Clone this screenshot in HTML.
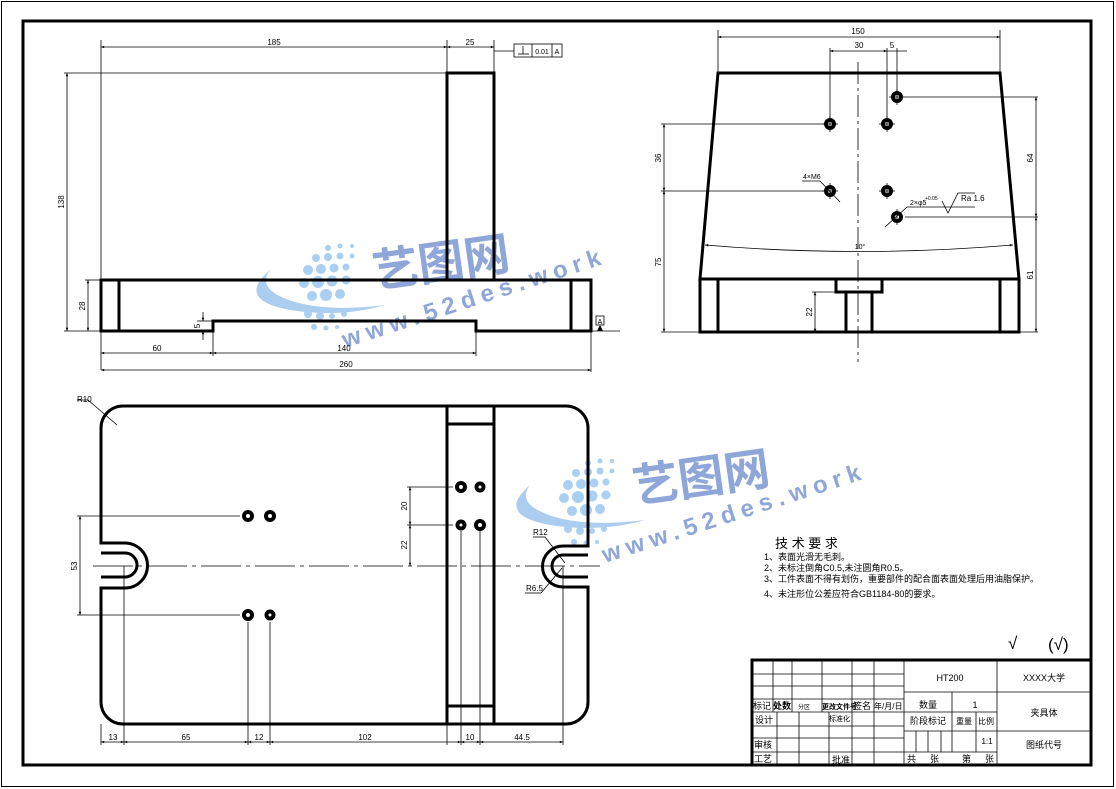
<!DOCTYPE html>
<html><head><meta charset="utf-8"><style>
html,body{margin:0;padding:0;background:#fff;}
svg{display:block;}
text{font-family:"Liberation Sans","Noto Sans CJK SC",sans-serif;fill:#000;}
.d{font-size:8px;}
.c{font-family:"Liberation Sans","Noto Sans CJK SC",sans-serif;font-size:9px;}
</style></head><body>
<svg width="1116" height="789" viewBox="0 0 1116 789" xmlns="http://www.w3.org/2000/svg">
<defs>
<marker id="a" viewBox="0 0 10 10" refX="10" refY="5" markerWidth="6" markerHeight="4" orient="auto-start-reverse"><path d="M0,1 L10,5 L0,9z" fill="#000"/></marker>
<g id="wm">
  <path d="M-40,-20 Q-75,10 -20,20 Q30,28 75,15 Q20,22 -15,12 Q-55,0 -40,-20 Z" fill="#9cc4ec" opacity="0.85"/>
  <g fill="#a9d0f3">
    <circle cx="18" cy="-42" r="3"/><circle cx="30" cy="-44" r="2.5"/><circle cx="42" cy="-44" r="2"/>
    <circle cx="6" cy="-32" r="4"/><circle cx="18" cy="-33" r="4"/><circle cx="30" cy="-34" r="3.5"/><circle cx="42" cy="-34" r="2.5"/>
    <circle cx="-2" cy="-20" r="5"/><circle cx="11" cy="-21" r="5"/><circle cx="24" cy="-22" r="4.5"/><circle cx="36" cy="-23" r="3.5"/>
    <circle cx="-6" cy="-7" r="5"/><circle cx="8" cy="-8" r="6"/><circle cx="22" cy="-9" r="5.5"/><circle cx="36" cy="-10" r="4.5"/>
    <circle cx="2" cy="6" r="5"/><circle cx="16" cy="5" r="6"/><circle cx="30" cy="4" r="5"/>
    <circle cx="-2" cy="24" r="4"/><circle cx="10" cy="26" r="4"/><circle cx="22" cy="26" r="3"/><circle cx="34" cy="24" r="3"/>
    <circle cx="4" cy="37" r="3"/><circle cx="16" cy="38" r="2.5"/><circle cx="27" cy="37" r="2"/>
  </g>
  <text x="65" y="-2" font-size="46" font-weight="bold" style="fill:#8fa6d8" transform="rotate(-8 65 -2)">艺图网</text>
  <text x="35" y="58" font-size="24" font-weight="bold" style="fill:#8fa6d8;letter-spacing:6px" transform="rotate(-18 35 58)">www.52des.work</text>
</g>
</defs>
<rect x="0" y="0" width="1116" height="789" fill="#fff"/>
<rect x="1.5" y="1.5" width="1112" height="785" fill="none" stroke="#000" stroke-width="1"/>
<rect x="23" y="21" width="1068" height="744" fill="none" stroke="#000" stroke-width="3"/>

<use href="#wm" x="310" y="290"/>
<use href="#wm" x="570" y="505"/>

<!-- FRONT VIEW -->
<g fill="none" stroke="#000">
<g stroke-width="3">
<rect x="447" y="73" width="47" height="207"/>
<path d="M101,280 H591 V331 H476 V321 H213 V331 H101 Z"/>
<line x1="119" y1="280" x2="119" y2="331"/><line x1="571" y1="280" x2="571" y2="331"/>
</g>
<g stroke-width="0.8">
<line x1="101" y1="40" x2="101" y2="370"/><line x1="447" y1="40" x2="447" y2="73"/><line x1="494" y1="40" x2="494" y2="73"/>
<line x1="64" y1="73" x2="447" y2="73"/><line x1="64" y1="331" x2="101" y2="331"/><line x1="85" y1="280" x2="101" y2="280"/>
<line x1="101" y1="47" x2="447" y2="47" marker-start="url(#a)" marker-end="url(#a)"/>
<line x1="447" y1="47" x2="494" y2="47" marker-start="url(#a)" marker-end="url(#a)"/>
<line x1="494" y1="51" x2="514" y2="51"/>
<line x1="67" y1="73" x2="67" y2="331" marker-start="url(#a)" marker-end="url(#a)"/>
<line x1="88" y1="280" x2="88" y2="331" marker-start="url(#a)" marker-end="url(#a)"/>
<line x1="213" y1="331" x2="213" y2="356"/><line x1="476" y1="331" x2="476" y2="356"/><line x1="591" y1="331" x2="591" y2="372"/>
<line x1="101" y1="353" x2="213" y2="353" marker-start="url(#a)" marker-end="url(#a)"/>
<line x1="213" y1="353" x2="476" y2="353" marker-start="url(#a)" marker-end="url(#a)"/>
<line x1="101" y1="370" x2="591" y2="370" marker-start="url(#a)" marker-end="url(#a)"/>
<line x1="197" y1="321" x2="213" y2="321"/>
<line x1="203" y1="312" x2="203" y2="321" marker-end="url(#a)"/><line x1="203" y1="340" x2="203" y2="331" marker-end="url(#a)"/>
<line x1="591" y1="331" x2="620" y2="331"/>
<rect x="514" y="44" width="48" height="13"/><line x1="532" y1="44" x2="532" y2="57"/><line x1="552" y1="44" x2="552" y2="57"/>
<line x1="518" y1="54" x2="529" y2="54"/><line x1="523" y1="46" x2="523" y2="54"/>
<rect x="596" y="316" width="8" height="9"/>
</g>
<path d="M597,331 L600,325 L603,331z" fill="#000" stroke="none"/>
</g>
<g class="d">
<text x="274" y="45" class="d" text-anchor="middle">185</text>
<text x="470" y="45" class="d" text-anchor="middle">25</text>
<text x="542" y="54" class="d" text-anchor="middle" style="font-size:7px">0.01</text>
<text x="557" y="54" class="d" text-anchor="middle" style="font-size:7px">A</text>
<text x="600" y="324" class="d" text-anchor="middle" style="font-size:7px">A</text>
<text class="d" text-anchor="middle" transform="translate(64,202) rotate(-90)">138</text>
<text class="d" text-anchor="middle" transform="translate(85,306) rotate(-90)">28</text>
<text class="d" text-anchor="middle" transform="translate(200,326) rotate(-90)">5</text>
<text x="157" y="351" class="d" text-anchor="middle">60</text>
<text x="344" y="351" class="d" text-anchor="middle">140</text>
<text x="346" y="367" class="d" text-anchor="middle">260</text>
</g>

<!-- SIDE VIEW -->
<g fill="none" stroke="#000">
<g stroke-width="3">
<path d="M718,73 H1000 L1019,279 H700 Z"/>
<rect x="700" y="279" width="319" height="53"/>
<line x1="718" y1="279" x2="718" y2="332"/><line x1="1000" y1="279" x2="1000" y2="332"/>
<path d="M836,279 V292 H882 V279"/>
<line x1="846" y1="292" x2="846" y2="332"/><line x1="872" y1="292" x2="872" y2="332"/>
</g>
<line x1="858" y1="62" x2="858" y2="362" stroke-width="0.8" stroke-dasharray="22,4,3,4"/>
<g stroke-width="0.8">
<line x1="718" y1="30" x2="718" y2="73"/><line x1="1000" y1="30" x2="1000" y2="73"/>
<line x1="718" y1="37" x2="1000" y2="37" marker-start="url(#a)" marker-end="url(#a)"/>
<line x1="830" y1="48" x2="830" y2="120"/><line x1="887" y1="48" x2="887" y2="120"/><line x1="897" y1="48" x2="897" y2="93"/>
<line x1="830" y1="51" x2="887" y2="51" marker-start="url(#a)" marker-end="url(#a)"/>
<line x1="887" y1="51" x2="907" y2="51"/>
<line x1="661" y1="124" x2="824" y2="124"/><line x1="661" y1="191" x2="824" y2="191"/><line x1="661" y1="332" x2="700" y2="332"/>
<line x1="664" y1="124" x2="664" y2="191" marker-start="url(#a)" marker-end="url(#a)"/>
<line x1="664" y1="191" x2="664" y2="332" marker-start="url(#a)" marker-end="url(#a)"/>
<line x1="905" y1="97" x2="1038" y2="97"/><line x1="905" y1="217" x2="1038" y2="217"/><line x1="1019" y1="332" x2="1038" y2="332"/>
<line x1="1036" y1="97" x2="1036" y2="217" marker-start="url(#a)" marker-end="url(#a)"/>
<line x1="1036" y1="217" x2="1036" y2="332" marker-start="url(#a)" marker-end="url(#a)"/>
<path d="M705,245 Q858,258 1013,245" marker-start="url(#a)" marker-end="url(#a)"/>
<line x1="812" y1="292" x2="846" y2="292"/>
<line x1="815" y1="292" x2="815" y2="332" marker-start="url(#a)" marker-end="url(#a)"/>
<line x1="802" y1="181" x2="820" y2="181"/><line x1="820" y1="181" x2="840" y2="202"/>
<line x1="885" y1="227" x2="907" y2="207"/><line x1="907" y1="207" x2="975" y2="207"/>
<path d="M942,201 L948,213 L958,193 H975"/>
<line x1="822" y1="124" x2="838" y2="124"/><line x1="830" y1="116" x2="830" y2="132"/>
<line x1="879" y1="124" x2="895" y2="124"/><line x1="887" y1="116" x2="887" y2="132"/>
<line x1="889" y1="97" x2="905" y2="97"/><line x1="897" y1="89" x2="897" y2="105"/>
<line x1="822" y1="191" x2="838" y2="191"/><line x1="830" y1="183" x2="830" y2="199"/>
<line x1="879" y1="191" x2="895" y2="191"/><line x1="887" y1="183" x2="887" y2="199"/>
<line x1="897" y1="209" x2="897" y2="225"/>
</g>
<g stroke-width="4">
<circle cx="830" cy="124" r="4"/><circle cx="887" cy="124" r="4"/><circle cx="897" cy="97" r="4"/>
<circle cx="830" cy="191" r="4"/><circle cx="887" cy="191" r="4"/><circle cx="897" cy="217" r="4"/>
</g>
</g>
<g>
<text x="858" y="34" class="d" text-anchor="middle">150</text>
<text x="859" y="48" class="d" text-anchor="middle">30</text>
<text x="892" y="48" class="d" text-anchor="middle">5</text>
<text class="d" text-anchor="middle" transform="translate(661,158) rotate(-90)">36</text>
<text class="d" text-anchor="middle" transform="translate(661,262) rotate(-90)">75</text>
<text class="d" text-anchor="middle" transform="translate(1033,158) rotate(-90)">64</text>
<text class="d" text-anchor="middle" transform="translate(1033,275) rotate(-90)">61</text>
<text class="d" text-anchor="middle" transform="translate(812,312) rotate(-90)">22</text>
<text x="860" y="249" class="d" text-anchor="middle" style="font-size:7px">10°</text>
<text x="803" y="179" class="d" style="font-size:7px">4×M6</text>
<text x="910" y="205" class="d" style="font-size:7px">2×φ5</text>
<text x="925" y="200" class="d" style="font-size:5px">+0.05</text>
<text x="961" y="201" class="d">Ra 1.6</text>
</g>

<!-- TOP VIEW -->
<g fill="none" stroke="#000">
<g stroke-width="3">
<path d="M123,406 H566 A22,22 0 0 1 588,428 V546 H563 A20.5,20.5 0 0 0 563,587 H588 V702 A22,22 0 0 1 566,724 H123 A22,22 0 0 1 101,702 V588 H125 A22.5,22.5 0 0 0 125,543 H101 V428 A22,22 0 0 1 123,406 Z"/>
<path d="M101,553 H125 A12,12 0 0 1 125,577 H101"/>
<path d="M588,555 H563 A11,11 0 0 0 563,577 H588"/>
<line x1="447" y1="406" x2="447" y2="724"/><line x1="494" y1="406" x2="494" y2="724"/>
<line x1="447" y1="424" x2="494" y2="424"/><line x1="447" y1="706" x2="494" y2="706"/>
</g>
<g stroke-width="4">
<circle cx="248" cy="516" r="4"/><circle cx="270" cy="516" r="4"/>
<circle cx="248" cy="615" r="4"/><circle cx="270" cy="615" r="3.5"/>
<circle cx="461" cy="487" r="4"/><circle cx="480" cy="487" r="3.5"/>
<circle cx="461" cy="525" r="3.5"/><circle cx="480" cy="525" r="4"/>
</g>
<g stroke-width="0.8">
<line x1="93" y1="566" x2="600" y2="566" stroke-dasharray="40,5,4,5"/>
<line x1="77" y1="516" x2="240" y2="516"/><line x1="77" y1="615" x2="240" y2="615"/>
<line x1="80" y1="516" x2="80" y2="615" marker-start="url(#a)" marker-end="url(#a)"/>
<line x1="407" y1="487" x2="453" y2="487"/><line x1="407" y1="525" x2="453" y2="525"/>
<line x1="410" y1="487" x2="410" y2="525" marker-start="url(#a)" marker-end="url(#a)"/>
<line x1="410" y1="525" x2="410" y2="566" marker-start="url(#a)" marker-end="url(#a)"/>
<line x1="124" y1="566" x2="124" y2="745"/><line x1="248" y1="622" x2="248" y2="745"/><line x1="270" y1="622" x2="270" y2="745"/>
<line x1="461" y1="531" x2="461" y2="745"/><line x1="480" y1="531" x2="480" y2="745"/><line x1="563" y1="566" x2="563" y2="745"/>
<line x1="101" y1="724" x2="101" y2="745"/><line x1="447" y1="724" x2="447" y2="745"/>
<line x1="101" y1="742" x2="124" y2="742" marker-start="url(#a)" marker-end="url(#a)"/>
<line x1="124" y1="742" x2="248" y2="742" marker-start="url(#a)" marker-end="url(#a)"/>
<line x1="248" y1="742" x2="270" y2="742" marker-start="url(#a)" marker-end="url(#a)"/>
<line x1="270" y1="742" x2="461" y2="742" marker-start="url(#a)" marker-end="url(#a)"/>
<line x1="461" y1="742" x2="480" y2="742" marker-start="url(#a)" marker-end="url(#a)"/>
<line x1="480" y1="742" x2="563" y2="742" marker-start="url(#a)" marker-end="url(#a)"/>
<line x1="77" y1="400" x2="88" y2="400"/><line x1="88" y1="400" x2="117" y2="425"/>
<line x1="533" y1="537" x2="545" y2="537"/><line x1="545" y1="537" x2="565" y2="563"/>
<line x1="525" y1="593" x2="541" y2="593"/><line x1="541" y1="593" x2="562" y2="568"/>
</g>
</g>
<g>
<text x="77" y="402" class="d">R10</text>
<text x="533" y="535" class="d">R12</text>
<text x="526" y="591" class="d">R6.5</text>
<text class="d" text-anchor="middle" transform="translate(77,566) rotate(-90)">53</text>
<text class="d" text-anchor="middle" transform="translate(407,506) rotate(-90)">20</text>
<text class="d" text-anchor="middle" transform="translate(407,545) rotate(-90)">22</text>
<text x="113" y="740" class="d" text-anchor="middle">13</text>
<text x="186" y="740" class="d" text-anchor="middle">65</text>
<text x="259" y="740" class="d" text-anchor="middle">12</text>
<text x="365" y="740" class="d" text-anchor="middle">102</text>
<text x="470" y="740" class="d" text-anchor="middle">10</text>
<text x="522" y="740" class="d" text-anchor="middle">44.5</text>
</g>

<!-- TECH REQ -->
<text x="775" y="548" style="font-size:13px">技 术 要 求</text>
<text x="764" y="560" class="c">1、表面光滑无毛刺。</text>
<text x="764" y="571" class="c">2、未标注倒角C0.5,未注圆角R0.5。</text>
<text x="764" y="582" class="c">3、工件表面不得有划伤，重要部件的配合面表面处理后用油脂保护。</text>
<text x="764" y="597" class="c">4、未注形位公差应符合GB1184-80的要求。</text>
<text x="1008" y="649" style="font-size:17px">√</text>
<text x="1048" y="650" style="font-size:17px">(√)</text>

<!-- TITLE BLOCK -->
<g fill="none" stroke="#000">
<rect x="752" y="660" width="339" height="105" stroke-width="3"/>
<g stroke-width="0.8">
<line x1="752" y1="674" x2="904" y2="674"/><line x1="752" y1="686" x2="904" y2="686"/><line x1="752" y1="699" x2="904" y2="699"/>
<line x1="752" y1="712" x2="904" y2="712"/><line x1="752" y1="726" x2="904" y2="726"/><line x1="752" y1="738" x2="904" y2="738"/><line x1="752" y1="752" x2="904" y2="752"/>
<line x1="773" y1="660" x2="773" y2="712"/><line x1="792" y1="660" x2="792" y2="712"/><line x1="822" y1="660" x2="822" y2="712"/>
<line x1="852" y1="660" x2="852" y2="765"/><line x1="874" y1="660" x2="874" y2="765"/>
<line x1="777" y1="712" x2="777" y2="765"/><line x1="799" y1="712" x2="799" y2="765"/><line x1="829" y1="712" x2="829" y2="765"/>
<line x1="904" y1="660" x2="904" y2="765"/><line x1="997" y1="660" x2="997" y2="765"/>
<line x1="904" y1="692" x2="1091" y2="692"/><line x1="904" y1="712" x2="997" y2="712"/>
<line x1="904" y1="731" x2="1091" y2="731"/><line x1="904" y1="752" x2="997" y2="752"/>
<line x1="952" y1="692" x2="952" y2="752"/><line x1="976" y1="712" x2="976" y2="752"/>
<line x1="916" y1="731" x2="916" y2="752"/><line x1="928" y1="731" x2="928" y2="752"/><line x1="941" y1="731" x2="941" y2="752"/>
</g>
</g>
<g class="c">
<text x="950" y="681" class="c" text-anchor="middle">HT200</text>
<text x="1044" y="681" class="c" text-anchor="middle">XXXX大学</text>
<text x="1044" y="716" class="c" text-anchor="middle">夹具体</text>
<text x="1044" y="748" class="c" text-anchor="middle">图纸代号</text>
<text x="928" y="708" class="c" text-anchor="middle">数量</text>
<text x="975" y="708" class="c" text-anchor="middle">1</text>
<text x="928" y="724" class="c" text-anchor="middle">阶段标记</text>
<text x="964" y="724" class="c" text-anchor="middle" style="font-size:8px">重量</text>
<text x="986" y="724" class="c" text-anchor="middle" style="font-size:8px">比例</text>
<text x="987" y="744" class="c" text-anchor="middle" style="font-size:8px">1:1</text>
<text x="907" y="762" class="c">共</text><text x="930" y="762" class="c">张</text>
<text x="962" y="762" class="c">第</text><text x="985" y="762" class="c">张</text>
<text x="753" y="709" class="c">标记</text><text x="773" y="709" class="c" style="font-weight:bold">处数</text>
<text x="798" y="709" class="c" style="font-size:6px">分区</text>
<text x="822" y="709" class="c" style="font-weight:bold;font-size:7px">更改文件号</text>
<text x="853" y="709" class="c">签名</text><text x="874" y="709" class="c" style="font-size:8px">年/月/日</text>
<text x="755" y="723" class="c">设计</text><text x="829" y="721" class="c" style="font-size:7px">标准化</text>
<text x="754" y="748" class="c">审核</text><text x="754" y="762" class="c">工艺</text>
<text x="832" y="763" class="c">批准</text>
</g>
</svg>
</body></html>
